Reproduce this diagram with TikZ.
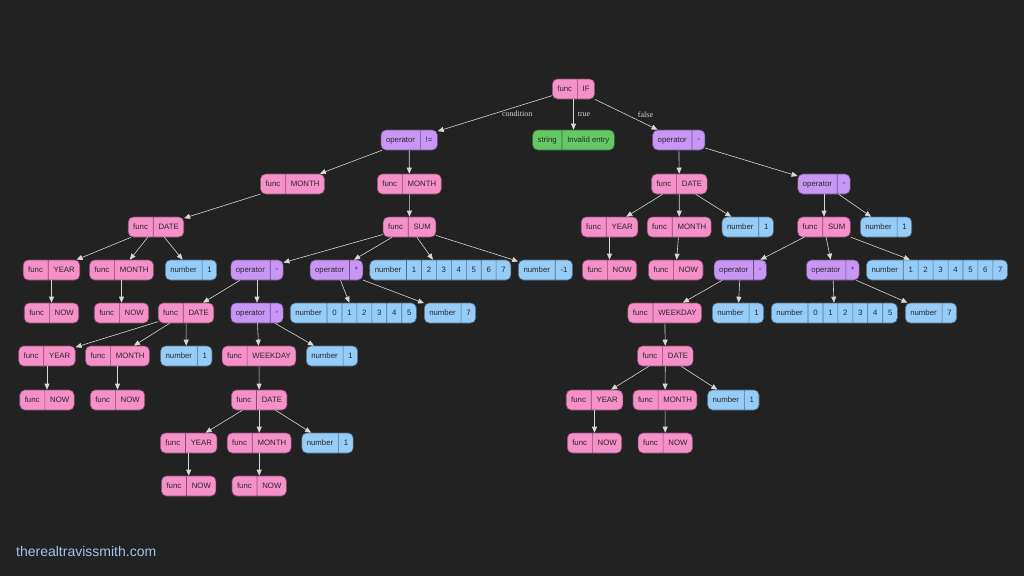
\documentclass[tikz,border=0pt]{standalone}
\usepackage{fontspec}
\setmainfont{Liberation Sans}
\newfontfamily\labelfont{Liberation Serif}
\usepackage{xcolor}
\definecolor{astbg}{RGB}{34,34,34}
\definecolor{astpink}{RGB}{245,144,200}
\definecolor{astpurple}{RGB}{200,150,245}
\definecolor{astblue}{RGB}{150,204,248}
\definecolor{astgreen}{RGB}{100,200,100}
\definecolor{astedge}{RGB}{215,215,215}
\definecolor{asttext}{RGB}{40,40,40}
\definecolor{astsite}{RGB}{160,196,236}
\usetikzlibrary{arrows.meta, shapes.multipart}

\tikzset{
  rec/.style={rectangle split, rectangle split horizontal, rectangle split parts=2,
    rectangle split draw splits, rounded corners=5pt, line width=0.6pt,
    inner xsep=5pt, inner ysep=0pt, text height=6pt, text depth=1.6pt,
    minimum height=20pt, font=\fontsize{7.8}{9}\selectfont, text=asttext},
  fn/.style={rec, fill=astpink, draw=astpink!55!black},
  op/.style={rec, fill=astpurple, draw=astpurple!55!black},
  num/.style={rec, fill=astblue, draw=astblue!55!black},
  txt/.style={rec, fill=astgreen, draw=astgreen!55!black},
  link/.style={draw=astedge, line width=0.6pt, -{Triangle[length=6pt, width=5pt]}},
  lbl/.style={font=\labelfont\fontsize{8}{9}\selectfont, text=astedge, inner sep=0pt}
}

\begin{document}
\begin{tikzpicture}[x=1pt, y=-1pt]
  % canvas
  \fill[astbg] (0,0) rectangle (1024,576);
  \useasboundingbox (0,0) rectangle (1024,576);

  % --- root ---
  \node[fn] (ifn) at (573.5,89) {func\nodepart{two}IF};
  \node[op] (neq) at (409.2,140) {operator\nodepart{two}!=};
  \node[txt] (invalid) at (573.5,140) {string\nodepart{two}Invalid entry};
  \node[op] (minus1) at (678.8,140) {operator\nodepart{two}-};

  % --- condition branch ---
  \node[fn] (monthA) at (292.5,184) {func\nodepart{two}MONTH};
  \node[fn] (monthB) at (409.3,184) {func\nodepart{two}MONTH};
  \node[fn] (dateA) at (156,227) {func\nodepart{two}DATE};
  \node[fn] (sumA) at (409.5,227) {func\nodepart{two}SUM};
  \node[fn] (yearA) at (51.5,270) {func\nodepart{two}YEAR};
  \node[fn] (monthA2) at (121.5,270) {func\nodepart{two}MONTH};
  \node[num] (oneA) at (191,270) {number\nodepart{two}1};
  \node[op] (minusA) at (257,270) {operator\nodepart{two}-};
  \node[op] (timesA) at (336.5,270) {operator\nodepart{two}*};
  \node[num, rectangle split parts=8] (seqA) at (440.3,270)
    {number\nodepart{two}1\nodepart{three}2\nodepart{four}3\nodepart{five}4\nodepart{six}5\nodepart{seven}6\nodepart{eight}7};
  \node[num] (negA) at (545.5,270) {number\nodepart{two}-1};
  \node[fn] (nowA) at (51.5,313) {func\nodepart{two}NOW};
  \node[fn] (nowA2) at (121.5,313) {func\nodepart{two}NOW};
  \node[fn] (dateB) at (186,313) {func\nodepart{two}DATE};
  \node[op] (minusB) at (257,313) {operator\nodepart{two}-};
  \node[num, rectangle split parts=7] (seqB) at (353.3,313)
    {number\nodepart{two}0\nodepart{three}1\nodepart{four}2\nodepart{five}3\nodepart{six}4\nodepart{seven}5};
  \node[num] (sevenA) at (450,313) {number\nodepart{two}7};
  \node[fn] (yearB) at (47,356) {func\nodepart{two}YEAR};
  \node[fn] (monthB2) at (117.5,356) {func\nodepart{two}MONTH};
  \node[num] (oneB) at (186.3,356) {number\nodepart{two}1};
  \node[fn] (wkdB) at (259,356) {func\nodepart{two}WEEKDAY};
  \node[num] (oneC) at (332,356) {number\nodepart{two}1};
  \node[fn] (nowB) at (47,400) {func\nodepart{two}NOW};
  \node[fn] (nowB2) at (117.5,400) {func\nodepart{two}NOW};
  \node[fn] (dateC) at (259.2,400) {func\nodepart{two}DATE};
  \node[fn] (yearC) at (188.7,443) {func\nodepart{two}YEAR};
  \node[fn] (monthC) at (259.2,443) {func\nodepart{two}MONTH};
  \node[num] (oneD) at (327.5,443) {number\nodepart{two}1};
  \node[fn] (nowC) at (188.7,486) {func\nodepart{two}NOW};
  \node[fn] (nowC2) at (259.2,486) {func\nodepart{two}NOW};

  % --- false branch ---
  \node[fn] (dateR) at (679.3,184) {func\nodepart{two}DATE};
  \node[op] (minus2) at (824,184) {operator\nodepart{two}-};
  \node[fn] (yearR) at (609.5,227) {func\nodepart{two}YEAR};
  \node[fn] (monthR) at (679.2,227) {func\nodepart{two}MONTH};
  \node[num] (oneR) at (747.7,227) {number\nodepart{two}1};
  \node[fn] (sumR) at (824,227) {func\nodepart{two}SUM};
  \node[num] (oneS) at (886,227) {number\nodepart{two}1};
  \node[fn] (nowR) at (609.5,270) {func\nodepart{two}NOW};
  \node[fn] (nowR2) at (675.8,270) {func\nodepart{two}NOW};
  \node[op] (minusR) at (740.3,270) {operator\nodepart{two}-};
  \node[op] (timesR) at (832.8,270) {operator\nodepart{two}*};
  \node[num, rectangle split parts=8] (seqR) at (937,270)
    {number\nodepart{two}1\nodepart{three}2\nodepart{four}3\nodepart{five}4\nodepart{six}5\nodepart{seven}6\nodepart{eight}7};
  \node[fn] (wkdR) at (664.8,313) {func\nodepart{two}WEEKDAY};
  \node[num] (oneT) at (738,313) {number\nodepart{two}1};
  \node[num, rectangle split parts=7] (seqR2) at (834.3,313)
    {number\nodepart{two}0\nodepart{three}1\nodepart{four}2\nodepart{five}3\nodepart{six}4\nodepart{seven}5};
  \node[num] (sevenR) at (931,313) {number\nodepart{two}7};
  \node[fn] (dateS) at (665.3,356) {func\nodepart{two}DATE};
  \node[fn] (yearS) at (594.5,400) {func\nodepart{two}YEAR};
  \node[fn] (monthS) at (665,400) {func\nodepart{two}MONTH};
  \node[num] (oneU) at (733.3,400) {number\nodepart{two}1};
  \node[fn] (nowS) at (594.5,443) {func\nodepart{two}NOW};
  \node[fn] (nowS2) at (665.3,443) {func\nodepart{two}NOW};

  % --- edges ---
  \draw[link] (ifn) -- node[lbl, anchor=west, xshift=7pt] {condition} (neq);
  \draw[link] (ifn) -- node[lbl, anchor=west, xshift=4pt] {true} (invalid);
  \draw[link] (ifn) -- node[lbl, anchor=west, xshift=11.5pt] {false} (minus1);
  \foreach \a/\b in {neq/monthA, neq/monthB, monthA/dateA, dateA/yearA, dateA/monthA2,
      dateA/oneA, yearA/nowA, monthA2/nowA2, monthB/sumA, sumA/minusA, sumA/timesA,
      sumA/seqA, sumA/negA, minusA/dateB, minusA/minusB, dateB/yearB, dateB/monthB2,
      dateB/oneB, yearB/nowB, monthB2/nowB2, minusB/wkdB, minusB/oneC, wkdB/dateC,
      dateC/yearC, dateC/monthC, dateC/oneD, yearC/nowC, monthC/nowC2,
      timesA/seqB, timesA/sevenA}
    \draw[link] (\a) -- (\b);
  \foreach \a/\b in {minus1/dateR, minus1/minus2, dateR/yearR, dateR/monthR, dateR/oneR,
      yearR/nowR, monthR/nowR2, minus2/sumR, minus2/oneS, sumR/minusR, sumR/timesR,
      sumR/seqR, minusR/wkdR, minusR/oneT, wkdR/dateS, dateS/yearS, dateS/monthS,
      dateS/oneU, yearS/nowS, monthS/nowS2, timesR/seqR2, timesR/sevenR}
    \draw[link] (\a) -- (\b);

  % watermark
  \node[anchor=west, inner sep=0pt, text=astsite, font=\fontsize{14}{16}\selectfont] (site) at (16,551) {therealtravissmith.com};
\end{tikzpicture}
\end{document}
